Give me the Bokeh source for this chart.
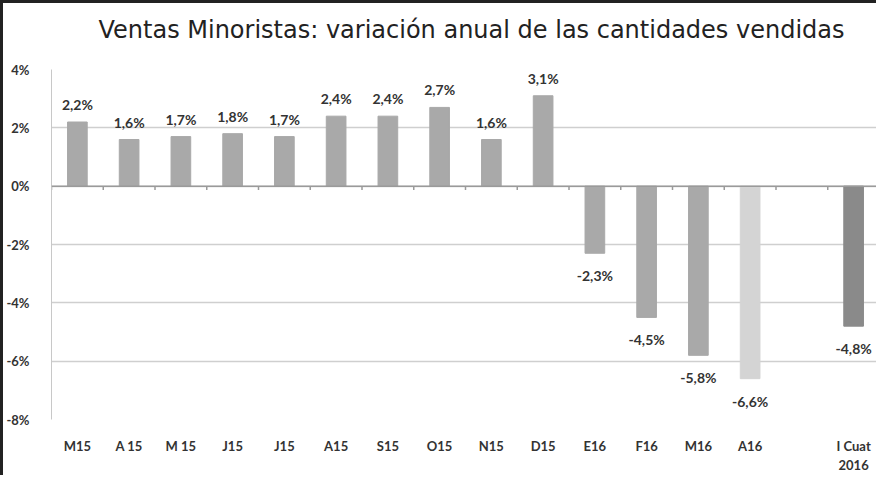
from bokeh.plotting import figure
from bokeh.layouts import column
from bokeh.models import ColumnDataSource, FixedTicker, Span
from bokeh.core.properties import value
from bokeh.embed import file_html
from bokeh.resources import INLINE

title_text = "Ventas Minoristas: variación anual de las cantidades vendidas"
categories = ["M15", "A 15", "M 15", "J15", "J15", "A15", "S15", "O15", "N15", "D15",
              "E16", "F16", "M16", "A16", "", "I Cuat\n2016"]
values = [2.2, 1.6, 1.7, 1.8, 1.7, 2.4, 2.4, 2.7, 1.6, 3.1,
          -2.3, -4.5, -5.8, -6.6, None, -4.8]
colors = ["#a9a9a9"] * 13 + ["#d4d4d4", None, "#8a8a8a"]
y_ticks = [-8, -6, -4, -2, 0, 2, 4]

FONT = "Lato"
W = 876
TITLE_H = 53
MAIN_H = 475 - TITLE_H

# ---- title strip (its own small svg figure) ----
tp = figure(width=W, height=TITLE_H, x_range=(0, 1), y_range=(0, 1),
            output_backend="svg", toolbar_location=None, min_border=0)
tp.text(x=[0.5], y=[0.5], text=[title_text], x_offset=6, text_align="center",
        text_baseline="middle", text_font=value("DejaVu Sans"), text_font_size="24px",
        text_color="#222222")
tp.axis.visible = False
tp.grid.grid_line_color = None
tp.outline_line_color = None
tp.styles = {"border-left": "3px solid #222", "border-top": "3px solid #222",
             "box-sizing": "border-box"}

# ---- main chart ----
xs, tops, cols, labels, offs, bases = [], [], [], [], [], []
for i, (v, c) in enumerate(zip(values, colors)):
    if v is None:
        continue
    xs.append(i + 0.5)
    tops.append(v)
    cols.append(c)
    labels.append(f"{v:.1f}".replace(".", ",") + "%")
    offs.append(-9 if v > 0 else 14)
    bases.append("bottom" if v > 0 else "top")

src = ColumnDataSource(dict(x=xs, top=tops, color=cols, label=labels, off=offs, base=bases))

p = figure(width=W, height=MAIN_H, x_range=(0, len(categories)), y_range=(-8, 4),
           output_backend="svg", toolbar_location=None,
           min_border_left=47, min_border_right=0, min_border_top=16, min_border_bottom=10)

p.vbar(x="x", top="top", bottom=0, width=0.38, color="color", source=src)

p.text(x="x", y="top", text="label", y_offset="off", text_baseline="base",
       text_align="center", text_font=value(FONT), text_font_size="14px",
       text_font_style="bold", text_color="#333333", source=src)

# zero line with small boundary ticks
p.add_layout(Span(location=0, dimension="width", line_color="#9a9a9a", line_width=1.5))
bx = list(range(0, len(categories) + 1))
p.segment(x0=bx, x1=bx, y0=[0] * len(bx), y1=[-0.13] * len(bx), line_color="#9a9a9a", line_width=1.5)

# x axis
p.xaxis.ticker = FixedTicker(ticks=[i + 0.5 for i in range(len(categories))])
p.xaxis.major_label_overrides = {i + 0.5: c for i, c in enumerate(categories)}
p.xaxis.axis_line_color = None
p.xaxis.major_tick_line_color = None
p.xaxis.minor_tick_line_color = None
p.xaxis.major_label_text_font = FONT
p.xaxis.major_label_text_font_size = "13px"
p.xaxis.major_label_text_font_style = "bold"
p.xaxis.major_label_text_color = "#333333"
p.xaxis.major_label_standoff = 12

# y axis
p.yaxis.ticker = FixedTicker(ticks=y_ticks)
p.yaxis.major_label_overrides = {t: f"{t}%" for t in y_ticks}
p.yaxis.axis_line_color = "#c8c8c8"
p.yaxis.major_tick_line_color = None
p.yaxis.minor_tick_line_color = None
p.yaxis.major_label_text_font = FONT
p.yaxis.major_label_text_font_size = "13px"
p.yaxis.major_label_text_font_style = "bold"
p.yaxis.major_label_text_color = "#333333"
p.yaxis.major_label_standoff = 16

p.xgrid.grid_line_color = None
p.ygrid.grid_line_color = "#cfcfcf"
p.ygrid.grid_line_width = 1.5
p.outline_line_color = None
p.styles = {"border-left": "3px solid #222", "box-sizing": "border-box"}

layout = column(tp, p)
open("out.html", "w").write(file_html(layout, INLINE))
